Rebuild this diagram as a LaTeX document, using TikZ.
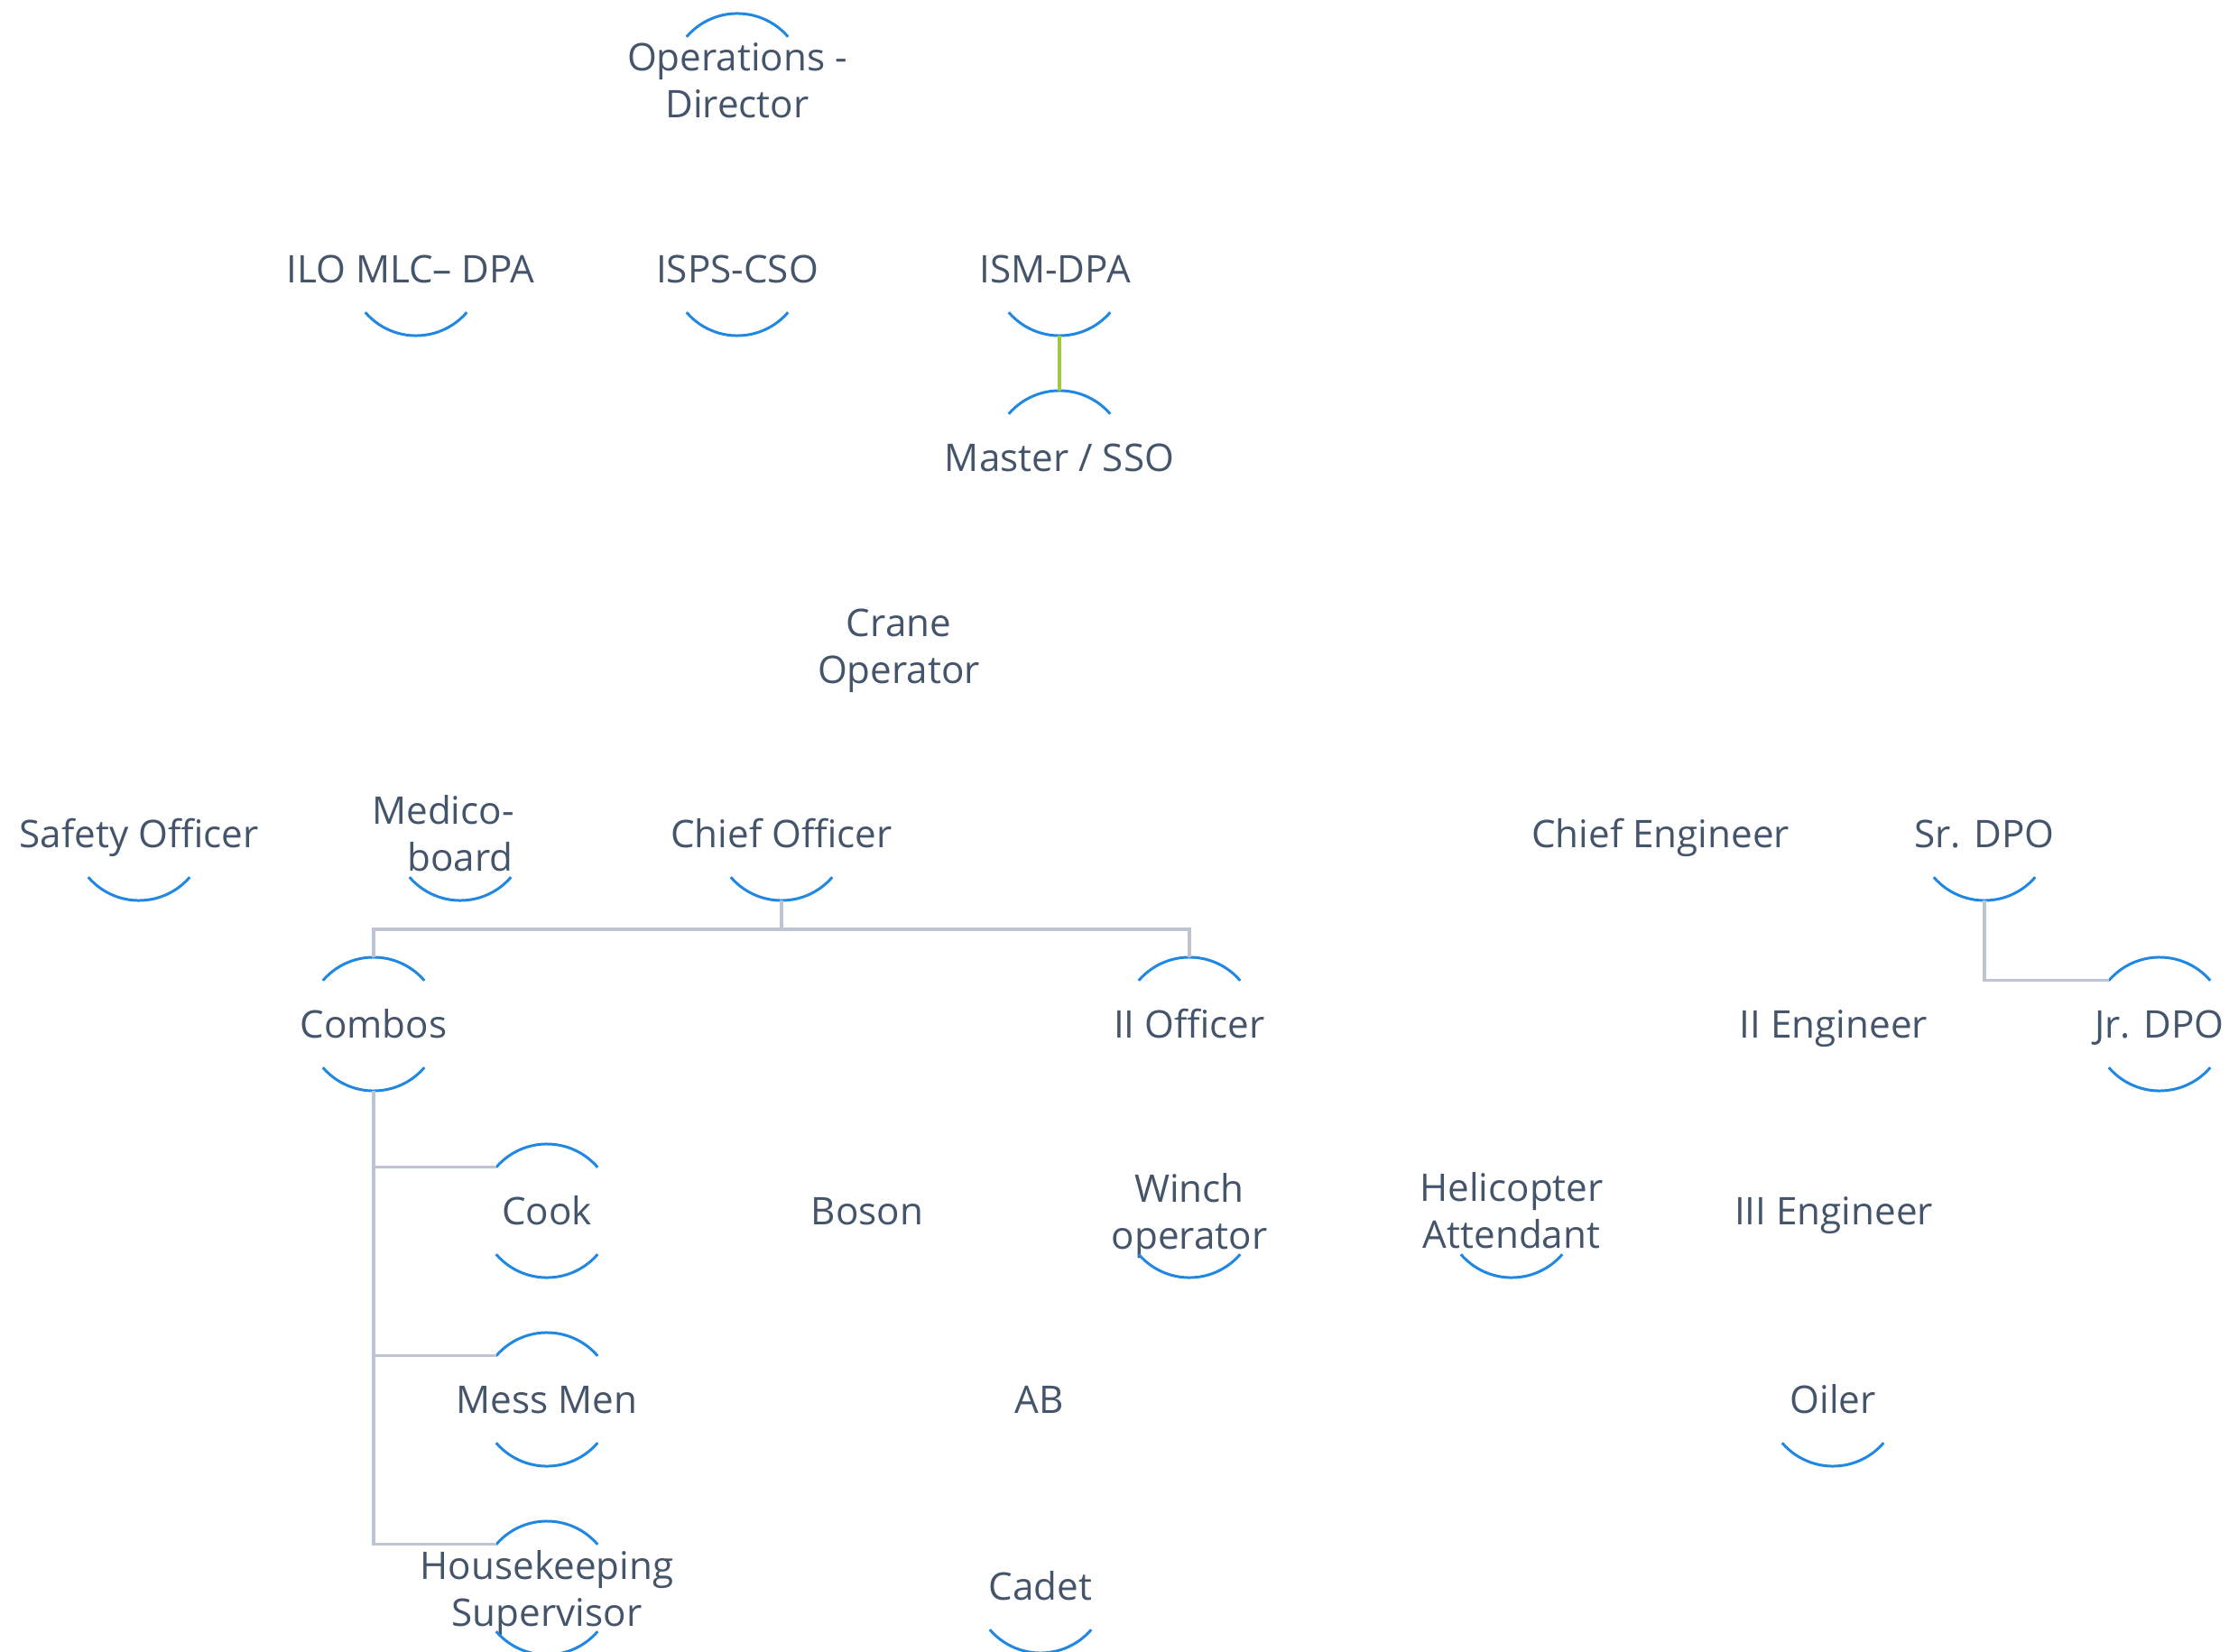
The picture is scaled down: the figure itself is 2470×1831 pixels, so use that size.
\documentclass[tikz,border=0pt]{standalone}
\usepackage{fontspec}
\setmainfont{Open Sans}
\definecolor{txt}{HTML}{44546A}
\definecolor{arcblue}{HTML}{2088E2}
\definecolor{conngray}{HTML}{BEC4D0}
\definecolor{conngreen}{HTML}{A2C645}
\newcommand\ArcTop[1]{\draw[arcline] ([shift={(139.4:0.74cm)}]#1.center) arc[start angle=139.4,end angle=40.6,radius=0.74cm];}
\newcommand\ArcBot[1]{\draw[arcline] ([shift={(220.6:0.74cm)}]#1.center) arc[start angle=220.6,end angle=319.4,radius=0.74cm];}
\begin{document}
\begin{tikzpicture}[x=0.01cm,y=0.01cm,
 lbl/.style={text=txt, font=\fontsize{12}{14.8}\selectfont, align=center, inner sep=0pt},
 one/.style={lbl, text height=8.6pt, text depth=0pt},
 two/.style={lbl},
 arcline/.style={draw=arcblue, line width=0.85pt},
 conn/.style={draw=conngray, line width=0.9pt},
 gconn/.style={draw=conngreen, line width=0.9pt}]
\useasboundingbox (0,0) rectangle (2470,-1831);
\clip (0,0) rectangle (2470,-1831);
% nodes
\node[two] (ops) at (817,-89) {Operations -\\Director};
\node[one] (ilo) at (461,-298) {ILO MLC– DPA\hspace*{0.12cm}};
\node[one] (isps) at (817,-298) {ISPS-CSO};
\node[one] (ism) at (1174,-298) {ISM-DPA\hspace*{0.1cm}};
\node[one] (master) at (1174,-507) {Master / SSO};
\node[two] (crane) at (996,-716) {Crane\\\smash{Operator}};
\node[one] (safety) at (154,-924) {Safety Officer};
\node[two] (medico) at (510,-924) {Medico-\hspace*{0.38cm}\\board};
\node[one] (chiefoff) at (866,-924) {Chief Officer};
\node[one] (chiefeng) at (1840,-924) {Chief Engineer};
\node[one] (srdpo) at (2199,-924) {Sr. DPO};
\node[one] (combos) at (414,-1135) {Combos};
\node[one] (iioff) at (1318,-1135) {II Officer};
\node[one] (iieng) at (2032,-1135) {II Engineer};
\node[one] (jrdpo) at (2393,-1135) {Jr. DPO};
\node[one] (cook) at (606,-1342) {Cook};
\node[one] (boson) at (961,-1342) {Boson};
\node[two] (winch) at (1318,-1342) {Winch\\\smash{operator}};
\node[two] (heli) at (1675,-1342) {Helicopter\\Attendant};
\node[one] (iiieng) at (2032,-1342) {III Engineer};
\node[one] (mess) at (606,-1551) {Mess Men};
\node[one] (ab) at (1152,-1551) {AB};
\node[one] (oiler) at (2031,-1551) {Oiler};
\node[two] (house) at (606,-1760) {Housekeeping\\\smash{Supervisor}};
\node[one] (cadet) at (1153,-1758) {Cadet};
% arcs
\ArcTop{ops}
\ArcBot{ilo}
\ArcBot{isps}
\ArcBot{ism}
\ArcTop{master}
\ArcBot{safety}
\ArcBot{medico}
\ArcBot{chiefoff}
\ArcTop{combos}\ArcBot{combos}
\ArcTop{iioff}
\ArcBot{srdpo}
\ArcTop{jrdpo}\ArcBot{jrdpo}
\ArcTop{cook}\ArcBot{cook}
\ArcBot{winch}
\ArcBot{heli}
\ArcTop{mess}\ArcBot{mess}
\ArcBot{oiler}
\ArcTop{house}\ArcBot{house}
\ArcBot{cadet}
% connectors
\draw[gconn] ([yshift=-0.74cm]ism.center) -- ([yshift=0.74cm]master.center);
\draw[conn] ([yshift=-0.74cm]chiefoff.center) -- ++(0,-32) -| ([yshift=0.74cm]combos.center);
\draw[conn] ([yshift=-0.74cm]chiefoff.center) -- ++(0,-32) -| ([yshift=0.74cm]iioff.center);
\draw[conn] ([yshift=-0.74cm]combos.center) |- ([shift={(139.4:0.74cm)}]cook.center);
\draw[conn] ([yshift=-0.74cm]combos.center) |- ([shift={(139.4:0.74cm)}]mess.center);
\draw[conn] ([yshift=-0.74cm]combos.center) |- ([shift={(139.4:0.74cm)}]house.center);
\draw[conn] ([yshift=-0.74cm]srdpo.center) |- ([shift={(139.4:0.74cm)}]jrdpo.center);
\end{tikzpicture}
\end{document}
